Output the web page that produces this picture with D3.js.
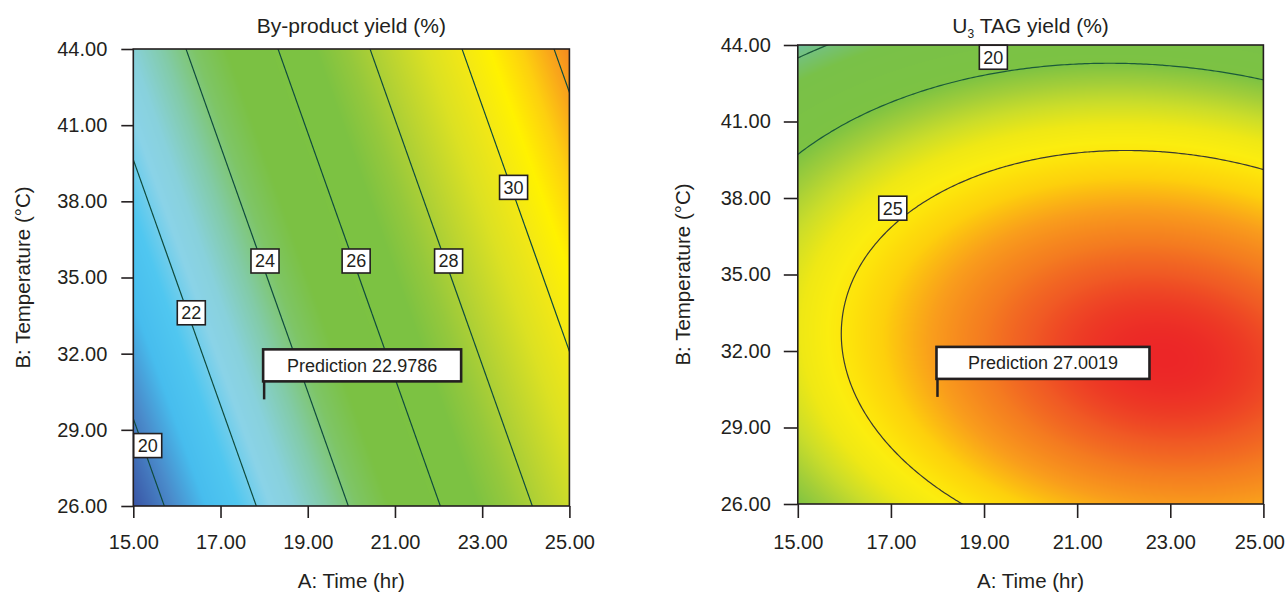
<!DOCTYPE html>
<html><head><meta charset="utf-8">
<script src="https://cdn.jsdelivr.net/npm/d3@7"></script>
<style>
html,body{margin:0;padding:0;background:#fff;}
svg{display:block;font-family:"Liberation Sans",Arial,Helvetica,sans-serif;}
</style></head><body>
<svg id="chart" width="1286" height="593"></svg>
<script>
// ---------------- data ----------------
const timeTicks = [15, 17, 19, 21, 23, 25];
const tempTicks = [26, 29, 32, 35, 38, 41, 44];
const timeDomain = [15, 25];
const tempDomain = [26, 44];
// response-surface models
// terms: [b0, a, t, a^2, t^2, a*t] with a = Time - 20, t = Temperature - 35
const byproductCoef = [25.83, 0.948, 0.196, 0, 0, 0];
const tagCoef = [28.455, 0.5267, -0.4341, -0.104, -0.0752, -0.0208];
const byproductLevels = [20, 22, 24, 26, 28, 30, 32];
const tagLevels = [15, 20, 25];
// contour label anchors [time, temperature, level]
const byproductLabels = [[15.33, 28.38, 20], [16.33, 33.61, 22], [18.02, 35.65, 24], [20.11, 35.65, 26], [22.23, 35.65, 28], [23.72, 38.55, 30]];
const tagLabels = [[19.2, 43.52, 20], [17.04, 37.6, 25]];
// prediction flags [time, temperature, predicted value]
const byproductPrediction = [18, 30.2, 22.9786];
const tagPrediction = [18, 30.2, 27.0019];

// ---------------- styles ----------------
const ink = "#231f20";
const byproductStops = [
  [19.3, "#3953a4"], [20.2, "#4a8bcb"], [20.9, "#47bdee"], [21.6, "#50c7f0"], [22.3, "#8ad3e8"],
  [22.8, "#88d1dc"], [23.5, "#82cba8"], [24.2, "#7ec566"], [24.9, "#7bc143"], [26.8, "#7cc242"],
  [27.5, "#95c83c"], [28.3, "#b8d332"], [29.2, "#dce123"], [30.0, "#f3e815"], [30.6, "#fff200"],
  [31.3, "#fdd00f"], [31.9, "#f9a51b"], [32.4, "#f5871f"]];
const tagStops = [
  [14.0, "#6dbfa3"], [15.0, "#74c17c"], [16.5, "#79c148"], [20.0, "#7cc243"], [21.3, "#a3ce39"],
  [22.5, "#cbdd2a"], [23.7, "#efe815"], [24.6, "#fbed0f"], [25.3, "#fde30b"], [26.2, "#fdd00c"],
  [27.4, "#f99d1c"], [28.4, "#f47b20"], [29.1, "#f05a24"], [29.6, "#ed3a25"], [29.95, "#ec2427"]];

const svg = d3.select("#chart");

function model(c, A, T) {
  const a = A - 20, t = T - 35;
  return c[0] + c[1] * a + c[2] * t + c[3] * a * a + c[4] * t * t + c[5] * a * t;
}

function drawPanel(cfg, idx) {
  const x = d3.scaleLinear().domain(timeDomain).range([cfg.left, cfg.right]);
  const y = d3.scaleLinear().domain(tempDomain).range([cfg.bottom, cfg.top]);
  const color = d3.scaleLinear().domain(cfg.stops.map(d => d[0])).range(cfg.stops.map(d => d[1]))
    .interpolate(d3.interpolateRgb).clamp(true);
  const g = svg.append("g");

  // heat map
  const W = Math.round(cfg.right - cfg.left), H = Math.round(cfg.bottom - cfg.top);
  const canvas = document.createElement("canvas");
  canvas.width = W; canvas.height = H;
  const ctx = canvas.getContext("2d");
  const img = ctx.createImageData(W, H);
  for (let j = 0; j < H; j++) {
    const T = y.invert(cfg.top + (j + 0.5) * (cfg.bottom - cfg.top) / H);
    for (let i = 0; i < W; i++) {
      const A = x.invert(cfg.left + (i + 0.5) * (cfg.right - cfg.left) / W);
      const c = d3.rgb(color(model(cfg.coef, A, T)));
      const k = (j * W + i) * 4;
      img.data[k] = c.r; img.data[k + 1] = c.g; img.data[k + 2] = c.b; img.data[k + 3] = 255;
    }
  }
  ctx.putImageData(img, 0, 0);
  g.append("image").attr("x", cfg.left).attr("y", cfg.top)
    .attr("width", cfg.right - cfg.left).attr("height", cfg.bottom - cfg.top)
    .attr("preserveAspectRatio", "none").attr("href", canvas.toDataURL());

  // contours
  const n = 160, m = 160;
  const vals = new Array(n * m);
  for (let j = 0; j < m; j++) for (let i = 0; i < n; i++) {
    const A = timeDomain[0] + i / (n - 1) * (timeDomain[1] - timeDomain[0]);
    const T = tempDomain[1] - j / (m - 1) * (tempDomain[1] - tempDomain[0]);
    vals[j * n + i] = model(cfg.coef, A, T);
  }
  const contours = d3.contours().size([n, m]).thresholds(cfg.levels)(vals);
  const proj = d3.geoTransform({
    point(px, py) {
      const A = timeDomain[0] + (px - 0.5) / (n - 1) * (timeDomain[1] - timeDomain[0]);
      const T = tempDomain[1] - (py - 0.5) / (m - 1) * (tempDomain[1] - tempDomain[0]);
      this.stream.point(x(A), y(T));
    }
  });
  const path = d3.geoPath(proj);
  const clipId = "clip" + idx;
  svg.append("clipPath").attr("id", clipId).append("rect")
    .attr("x", cfg.left).attr("y", cfg.top).attr("width", cfg.right - cfg.left).attr("height", cfg.bottom - cfg.top);
  g.append("g").attr("clip-path", `url(#${clipId})`)
    .selectAll("path").data(contours).join("path")
    .attr("d", path).attr("fill", "none")
    .attr("stroke", d => cfg.lineColor(d.value)).attr("stroke-width", 1.2);

  // contour labels
  cfg.labels.forEach(([A, T, v]) => {
    const lg = g.append("g");
    const rect = lg.append("rect");
    const t = lg.append("text").attr("x", x(A)).attr("y", y(T) + 6.3)
      .attr("text-anchor", "middle").attr("font-size", 18).attr("fill", ink).text(v);
    const w = t.node().getComputedTextLength() + 8;
    rect.attr("x", x(A) - w / 2).attr("y", y(T) - 12).attr("width", w).attr("height", 24)
      .attr("fill", "#fff").attr("stroke", ink).attr("stroke-width", 1.6);
  });

  // prediction flag
  const [pA, pT, pV] = cfg.prediction;
  const px = x(pA), py = y(pT);
  const boxB = py - 18, boxH = 32;
  g.append("line").attr("x1", px).attr("x2", px).attr("y1", py).attr("y2", boxB)
    .attr("stroke", ink).attr("stroke-width", 2.5);
  g.append("rect").attr("x", px - 1).attr("y", boxB - boxH).attr("width", cfg.predW).attr("height", boxH)
    .attr("fill", "#fff").attr("stroke", ink).attr("stroke-width", 2.6);
  g.append("text").attr("x", px - 1 + cfg.predW / 2).attr("y", boxB - boxH / 2 + 6.3)
    .attr("text-anchor", "middle").attr("font-size", 18).attr("fill", ink).text("Prediction " + pV);

  // axes
  const fmt = d3.format(".2f");
  const ya = g.append("g").attr("transform", `translate(${cfg.left},0)`)
    .call(d3.axisLeft(y).tickValues(tempTicks).tickFormat(fmt).tickSize(cfg.tick).tickPadding(cfg.ypad));
  const xa = g.append("g").attr("transform", `translate(0,${cfg.bottom})`)
    .call(d3.axisBottom(x).tickValues(timeTicks).tickFormat(fmt).tickSize(cfg.tick));
  [ya, xa].forEach(a => {
    a.select(".domain").remove();
    a.selectAll("line").attr("stroke", ink).attr("stroke-width", 1.6);
    a.selectAll("text").attr("font-size", 20).attr("fill", ink).attr("font-family", null);
  });
  xa.selectAll("text").attr("dy", null).attr("y", cfg.xLabelY);
  if (cfg.lastShift) {
    xa.selectAll("text").filter(d => d === timeTicks[timeTicks.length - 1]).attr("dx", cfg.lastShift);
  }

  // frame
  g.append("rect").attr("x", cfg.left).attr("y", cfg.top)
    .attr("width", cfg.right - cfg.left).attr("height", cfg.bottom - cfg.top)
    .attr("fill", "none").attr("stroke", ink).attr("stroke-width", 1.6);

  // titles
  const cx = (cfg.left + cfg.right) / 2, cy = (cfg.top + cfg.bottom) / 2;
  const title = g.append("text").attr("x", cx).attr("y", 33.3).attr("text-anchor", "middle")
    .attr("font-size", 21).attr("fill", ink);
  cfg.title(title);
  g.append("text").attr("x", cx).attr("y", 588).attr("text-anchor", "middle")
    .attr("font-size", 20.5).attr("fill", ink).text("A: Time (hr)");
  g.append("text").attr("transform", `translate(${cfg.yTitleX},${cy}) rotate(-90)`)
    .attr("text-anchor", "middle").attr("font-size", 20.5).attr("fill", ink).text("B: Temperature (°C)");
}

drawPanel({
  left: 133.3, right: 569.4, top: 49, bottom: 506, tick: 12, ypad: 14, xLabelY: 43.3, yTitleX: 29.5,
  coef: byproductCoef, levels: byproductLevels, labels: byproductLabels, prediction: byproductPrediction,
  stops: byproductStops, predW: 198,
  lineColor: () => "#0f4b3d",
  title: t => t.text("By-product yield (%)")
}, 0);

drawPanel({
  left: 797.8, right: 1263.4, top: 45, bottom: 504, tick: 14, ypad: 13, xLabelY: 45.3, yTitleX: 689.5,
  coef: tagCoef, levels: tagLevels, labels: tagLabels, prediction: tagPrediction,
  stops: tagStops, predW: 213, lastShift: -4,
  lineColor: v => v >= 25 ? "#3a3a30" : "#1b5a3a",
  title: t => {
    t.append("tspan").text("U");
    t.append("tspan").attr("font-size", 12).attr("dy", 5).text("3");
    t.append("tspan").attr("dy", -5).text(" TAG yield (%)");
  }
}, 1);
</script>
</body></html>
